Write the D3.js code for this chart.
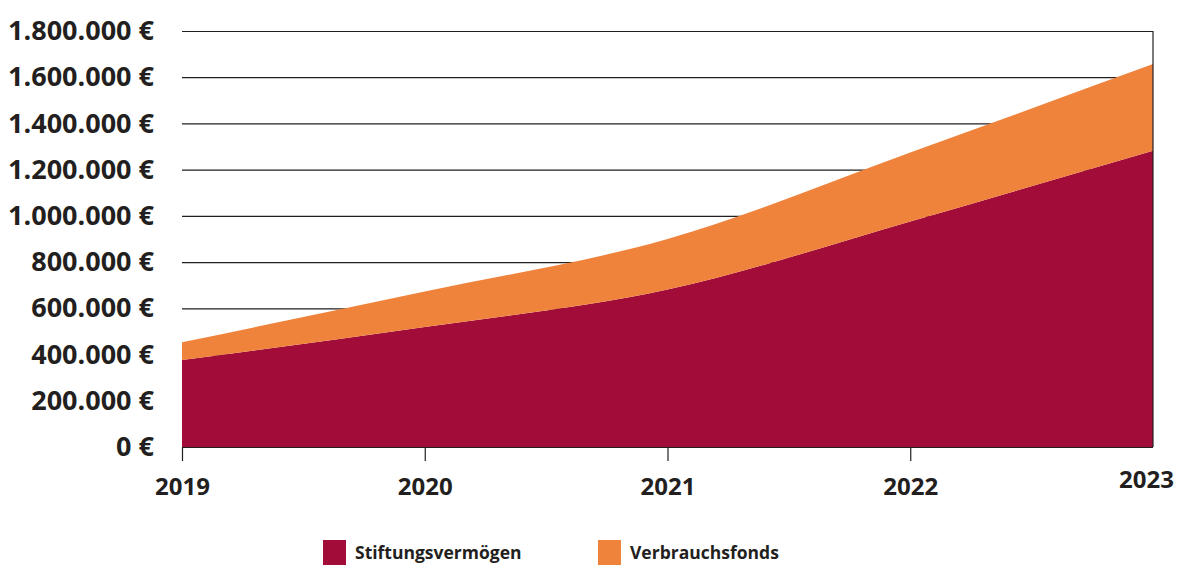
<!DOCTYPE html>
<html>
<head>
<meta charset="utf-8">
<script src="https://cdn.jsdelivr.net/npm/d3@7"></script>
<style>
  body { margin: 0; background: #fff; }
  text { font-family: "Open Sans", Lato, sans-serif; font-weight: 700; fill: #231f20; }
</style>
</head>
<body>
<div id="container"></div>
<script>
/* DATA */
const years = [2019, 2020, 2021, 2022, 2023];
const stiftungsvermoegen = [376000, 519000, 681000, 976000, 1282000];
const verbrauchsfonds = [77000, 154000, 219000, 298000, 375000];
const seriesNames = ["Stiftungsvermögen", "Verbrauchsfonds"];
const yTicks = [0, 200000, 400000, 600000, 800000, 1000000, 1200000, 1400000, 1600000, 1800000];

/* CONSTANTS */
const width = 1180,
  height = 565,
  margin = { top: 31, bottom: 118, left: 182, right: 27 };

const colors = ["#a20c38", "#f0833c"];

const rows = years.map((y, i) => ({
  year: y,
  "Stiftungsvermögen": stiftungsvermoegen[i],
  "Verbrauchsfonds": verbrauchsfonds[i]
}));

const deFormat = d3.formatLocale({ decimal: ",", thousands: ".", grouping: [3], currency: ["", ""] }).format(",.0f");

// scales
const xScale = d3.scaleLinear()
  .domain([2019, 2023])
  .range([margin.left, width - margin.right]);

const yScale = d3.scaleLinear()
  .domain([0, 1800000])
  .range([height - margin.bottom, margin.top]);

const colorScale = d3.scaleOrdinal()
  .domain(seriesNames)
  .range(colors);

const svg = d3.select("#container")
  .append("svg")
  .attr("width", width)
  .attr("height", height);

// gridlines (behind the areas)
svg.append("g")
  .attr("class", "grid")
  .attr("transform", `translate(${margin.left}, 0)`)
  .call(d3.axisLeft(yScale).tickValues(yTicks).tickSize(-(width - margin.left - margin.right)).tickFormat(""))
  .call(g => g.select(".domain").remove())
  .call(g => g.selectAll("line").attr("stroke", "#231f20").attr("stroke-width", 1.2));

// stacked areas
const stacked = d3.stack().keys(seriesNames)(rows);

const area = d3.area()
  .x(d => xScale(d.data.year))
  .y0(d => yScale(d[0]))
  .y1(d => yScale(d[1]))
  .curve(d3.curveMonotoneX);

svg.append("g")
  .selectAll("path")
  .data(stacked)
  .join("path")
  .attr("fill", d => colorScale(d.key))
  .attr("d", area);

// right border
svg.append("line")
  .attr("x1", xScale(2023)).attr("x2", xScale(2023))
  .attr("y1", yScale(1800000)).attr("y2", yScale(0))
  .attr("stroke", "#231f20")
  .attr("stroke-width", 1.2);

// y axis labels
svg.append("g")
  .attr("class", "yAxis")
  .attr("transform", `translate(${margin.left - 28}, 0)`)
  .call(d3.axisLeft(yScale).tickValues(yTicks).tickSize(0).tickPadding(0).tickFormat(d => deFormat(d) + " €"))
  .call(g => g.select(".domain").remove())
  .call(g => g.selectAll("text").attr("font-size", 27).attr("fill", "#231f20"));

// x axis
svg.append("g")
  .attr("class", "xAxis")
  .attr("transform", `translate(0, ${yScale(0)})`)
  .call(d3.axisBottom(xScale).tickValues(years).tickSize(14).tickPadding(17).tickFormat(d3.format("d")))
  .call(g => g.select(".domain").remove())
  .call(g => g.selectAll("line").attr("stroke", "#231f20").attr("stroke-width", 1.2))
  .call(g => g.selectAll("text").attr("font-size", 24).attr("fill", "#231f20"))
  .call(g => g.selectAll(".tick").filter(d => d === 2023)
    .call(t => t.select("line").remove())
    .call(t => t.select("text").attr("dx", -7).attr("y", 24)));

// legend
const legend = svg.append("g")
  .attr("class", "legend")
  .selectAll("g")
  .data(seriesNames)
  .join("g")
  .attr("transform", (d, i) => `translate(${[323, 598][i]}, 540)`);

legend.append("rect")
  .attr("width", 23)
  .attr("height", 25)
  .attr("fill", d => colorScale(d));

legend.append("text")
  .attr("x", 32)
  .attr("y", 19)
  .attr("font-size", 17.5)
  .text(d => d);
</script>
</body>
</html>
